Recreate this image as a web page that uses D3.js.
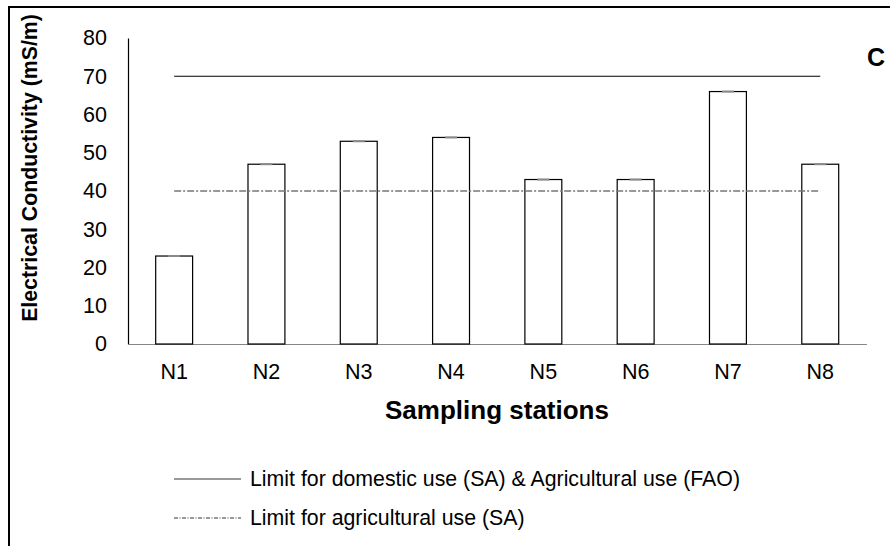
<!DOCTYPE html>
<html>
<head>
<meta charset="utf-8">
<script src="https://cdn.jsdelivr.net/npm/d3@7"></script>
<style>
  html, body { margin: 0; padding: 0; background: #fff; }
  svg { display: block; font-family: Arial, "Liberation Sans", sans-serif; }
</style>
</head>
<body>
<svg id="chart" width="890" height="546"></svg>
<script>
// Electrical conductivity per sampling station
const stations = ["N1", "N2", "N3", "N4", "N5", "N6", "N7", "N8"];
const conductivity = [23, 47, 53, 54, 43, 43, 66, 47];
const stdError = [0, 0, 0, 0, 0, 0, 0, 0];
const yTicks = [0, 10, 20, 30, 40, 50, 60, 70, 80];
const limitDomestic = 70;      // SA domestic & FAO agricultural limit
const limitAgricultural = 40;  // SA agricultural limit
const legendLabels = [
  "Limit for domestic use (SA) & Agricultural use (FAO)",
  "Limit for agricultural use (SA)"
];

const FONT = "Arial, 'Liberation Sans', sans-serif";
const svg = d3.select("#chart");

// outer frame
svg.append("rect")
  .attr("x", 9).attr("y", 7)
  .attr("width", 900).attr("height", 560)
  .attr("fill", "none").attr("stroke", "#000").attr("stroke-width", 2);

const x = d3.scaleBand()
  .domain(stations)
  .range([128, 866.4])
  .paddingInner(0.6)
  .paddingOuter(0.3);

const y = d3.scaleLinear().domain([0, 80]).range([344, 38]);

// y axis
const yAxis = svg.append("g")
  .attr("transform", "translate(128,0)")
  .call(d3.axisLeft(y).tickValues(yTicks).tickSize(0).tickPadding(21));
yAxis.select(".domain").attr("stroke", "#000").attr("stroke-width", 1.2);
yAxis.selectAll(".tick text")
  .attr("font-size", 21.5).attr("fill", "#000").attr("font-family", FONT);

// x axis
const xAxis = svg.append("g")
  .attr("transform", "translate(0,344)")
  .call(d3.axisBottom(x).tickSize(0).tickPadding(20));
xAxis.select(".domain").attr("stroke", "#868686").attr("stroke-width", 1.2);
xAxis.selectAll(".tick text")
  .attr("font-size", 21.5).attr("fill", "#000").attr("font-family", FONT);

// bars
svg.append("g").selectAll("rect")
  .data(stations)
  .join("rect")
  .attr("x", d => x(d))
  .attr("y", (d, i) => y(conductivity[i]))
  .attr("width", x.bandwidth())
  .attr("height", (d, i) => y(0) - y(conductivity[i]))
  .attr("fill", "#fff")
  .attr("stroke", "#000")
  .attr("stroke-width", 1.2);

// error bar caps
const caps = svg.append("g").attr("stroke", "#8a8a8a").attr("stroke-width", 2);
stations.forEach((s, i) => {
  const cx = x(s) + x.bandwidth() / 2;
  const top = y(conductivity[i] + stdError[i]);
  const bot = y(conductivity[i] - stdError[i]);
  caps.append("line").attr("x1", cx).attr("x2", cx).attr("y1", top).attr("y2", bot);
  caps.append("line").attr("x1", cx - 6).attr("x2", cx + 6).attr("y1", top).attr("y2", top);
});

// limit lines spanning first to last station
const xFirst = x(stations[0]) + x.bandwidth() / 2;
const xLast = x(stations[stations.length - 1]) + x.bandwidth() / 2;
svg.append("line")
  .attr("x1", xFirst).attr("x2", xLast)
  .attr("y1", y(limitDomestic)).attr("y2", y(limitDomestic))
  .attr("stroke", "#000").attr("stroke-width", 1.2);
svg.append("line")
  .attr("x1", xFirst).attr("x2", xLast)
  .attr("y1", y(limitAgricultural)).attr("y2", y(limitAgricultural))
  .attr("stroke", "#777").attr("stroke-width", 1.3)
  .attr("stroke-dasharray", "7,2,2,2");

// axis titles
svg.append("text")
  .attr("transform", "translate(37,168) rotate(-90)")
  .attr("text-anchor", "middle")
  .attr("font-size", 21.3).attr("font-weight", "bold")
  .text("Electrical Conductivity (mS/m)");

svg.append("text")
  .attr("x", 497).attr("y", 419)
  .attr("text-anchor", "middle")
  .attr("font-size", 26).attr("font-weight", "bold")
  .text("Sampling stations");

// panel letter
svg.append("text")
  .attr("x", 876).attr("y", 66)
  .attr("text-anchor", "middle")
  .attr("font-size", 25).attr("font-weight", "bold")
  .text("C");

// legend
const legend = svg.append("g");
const legendY = [479, 518];
legend.append("line")
  .attr("x1", 174).attr("x2", 241).attr("y1", legendY[0]).attr("y2", legendY[0])
  .attr("stroke", "#777").attr("stroke-width", 1.3);
legend.append("line")
  .attr("x1", 174).attr("x2", 241).attr("y1", legendY[1]).attr("y2", legendY[1])
  .attr("stroke", "#000").attr("stroke-width", 0.8)
  .attr("stroke-dasharray", "4,1.5,1,1.5");
legendLabels.forEach((t, i) => {
  legend.append("text")
    .attr("x", 250).attr("y", legendY[i])
    .attr("dy", "0.35em")
    .attr("font-size", 21.3)
    .text(t);
});
</script>
</body>
</html>
